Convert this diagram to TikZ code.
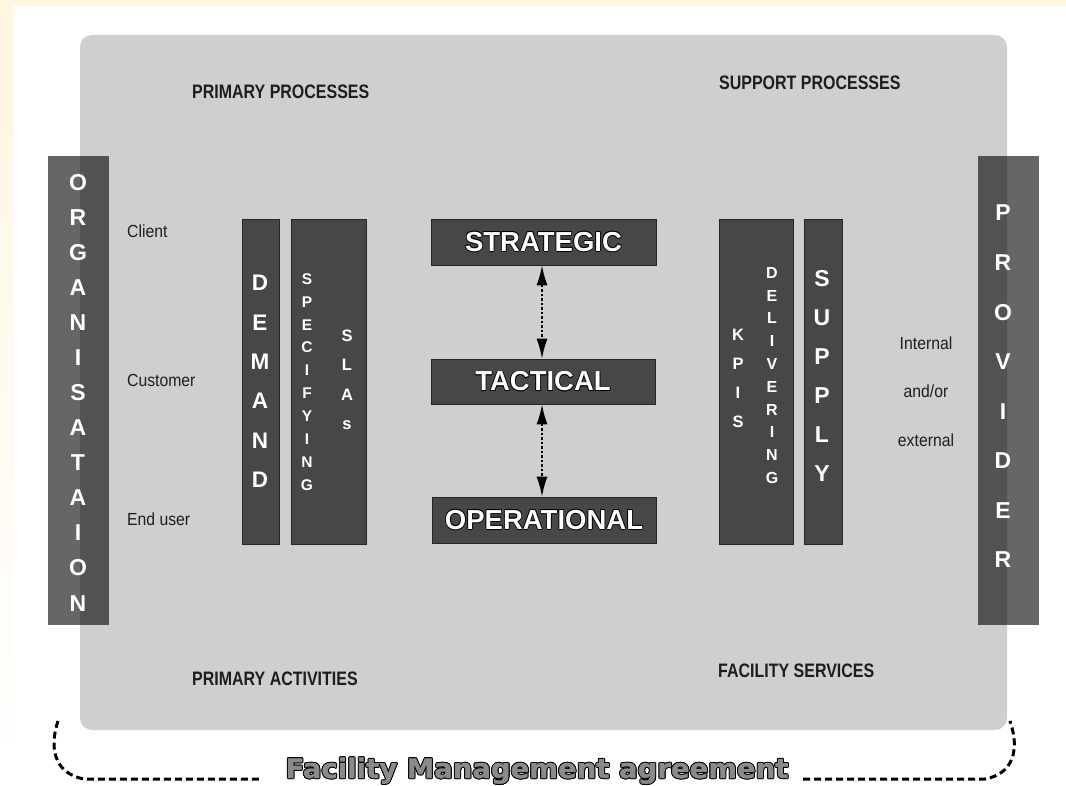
\documentclass[tikz,border=0pt]{standalone}
\usepackage{fontspec}
\setmainfont{Liberation Sans}
\newfontfamily\condfont{Liberation Sans}[FakeStretch=0.82]
\newfontfamily\labelfont{Liberation Sans}[FakeStretch=0.9]
\newfontfamily\widefont{DejaVu Sans}[FakeStretch=1.02, FakeBold=1.2]
\usetikzlibrary{arrows.meta}
\definecolor{panelgray}{HTML}{CFCFCF}
\definecolor{boxgray}{HTML}{474747}
\definecolor{fmgray}{HTML}{8A8A8A}
\definecolor{bandyellow}{HTML}{FFF6DF}
\definecolor{txtdark}{HTML}{1E1E1E}
% #1 offset (number, pt), #2 outline colour, #3 fill colour, #4 text
\newcommand\outlinetext[4]{\leavevmode
  \rlap{\color{#2}\kern-#1pt\relax #4}%
  \rlap{\color{#2}\kern#1pt\relax #4}%
  \rlap{\color{#2}\raisebox{#1pt}{#4}}%
  \rlap{\color{#2}\raisebox{-#1pt}{#4}}%
  \rlap{\color{#2}\kern-\dimexpr#1pt*7/10\relax\raisebox{\dimexpr#1pt*7/10\relax}{#4}}%
  \rlap{\color{#2}\kern\dimexpr#1pt*7/10\relax\raisebox{\dimexpr#1pt*7/10\relax}{#4}}%
  \rlap{\color{#2}\kern-\dimexpr#1pt*7/10\relax\raisebox{-\dimexpr#1pt*7/10\relax}{#4}}%
  \rlap{\color{#2}\kern\dimexpr#1pt*7/10\relax\raisebox{-\dimexpr#1pt*7/10\relax}{#4}}%
  {\color{#3}#4}}
\begin{document}
\begin{tikzpicture}[x=1pt,y=-1pt,
  panel/.style={fill=panelgray, draw=none, rounded corners=12pt},
  sidebar/.style={fill=black, fill opacity=0.6, draw=none, inner sep=0pt,
    minimum width=61pt, minimum height=469pt},
  darkbox/.style={fill=boxgray, draw=black!85, line width=0.8pt, inner sep=0pt},
  vletters/.style={text=white, align=center, inner sep=0pt},
  header/.style={font=\condfont\bfseries\fontsize{19.5}{21}\selectfont, text=txtdark,
    anchor=base west, inner sep=0pt},
  sidelabel/.style={font=\labelfont\fontsize{17.5}{19}\selectfont, text=txtdark, inner sep=0pt},
  levelbox/.style={darkbox, minimum width=225pt, minimum height=46pt,
    font=\bfseries\fontsize{27.5}{30}\selectfont},
  bracket/.style={line width=3pt, dash pattern=on 7pt off 4pt},
  dotarrow/.style={line width=1.6pt, dash pattern=on 2.5pt off 2pt,
    {Latex[length=20pt,width=11pt]}-{Latex[length=20pt,width=11pt]}}
]
\useasboundingbox (0,0) rectangle (1066,786);
\fill[white] (0,0) rectangle (1066,786);
% faint yellow edge bands
\fill[bandyellow] (0,0) rectangle (1066,6);
\shade[top color=bandyellow, bottom color=white] (0,0) rectangle (13,786);

% grey panel
\fill[panel] (80,35) rectangle (1007,730);

% side bars
\node[sidebar] (orgbar) at (78.5,390.5) {};
\node[sidebar] (provbar) at (1008.5,390.5) {};
\node[vletters, font=\bfseries\fontsize{23}{35.08}\selectfont] (org) at (78,392.5)
  {O\\R\\G\\A\\N\\I\\S\\A\\T\\A\\I\\O\\N};
\node[vletters, font=\bfseries\fontsize{23}{49.57}\selectfont] (prov) at (1003,386.5)
  {P\\R\\O\\V\\I\\D\\E\\R};

% headers
\node[header] (pp) at (192,99) {PRIMARY PROCESSES};
\node[header] (sp) at (719,90) {SUPPORT PROCESSES};
\node[header] (pa) at (192,685) {PRIMARY ACTIVITIES};
\node[header] (fs) at (718,677) {FACILITY SERVICES};

% left labels
\node[sidelabel, anchor=base west] (client) at (127,237.5) {Client};
\node[sidelabel, anchor=base west] (customer) at (127,386.5) {Customer};
\node[sidelabel, anchor=base west] (enduser) at (127,525.5) {End user};
% right labels
\node[sidelabel, anchor=base] (internal) at (926,349.5) {Internal};
\node[sidelabel, anchor=base] (andor) at (926,398) {and/or};
\node[sidelabel, anchor=base] (external) at (926,446) {external};

% demand side
\node[darkbox, minimum width=37pt, minimum height=325pt] (demandbox) at (260.5,381.5) {};
\node[darkbox, minimum width=75pt, minimum height=325pt] (specbox) at (328.5,381.5) {};
\node[vletters, font=\bfseries\fontsize{22.5}{39.4}\selectfont] (demand) at (260,381.5)
  {D\\E\\M\\A\\N\\D};
\node[vletters, font=\bfseries\fontsize{15.5}{22.9}\selectfont] (specifying) at (307,382)
  {S\\P\\E\\C\\I\\F\\Y\\I\\N\\G};
\node[vletters, font=\bfseries\fontsize{16.5}{29.5}\selectfont] (slas) at (347,380)
  {S\\L\\A\\s};

% supply side
\node[darkbox, minimum width=74pt, minimum height=325pt] (delivbox) at (756,381.5) {};
\node[darkbox, minimum width=38pt, minimum height=325pt] (supplybox) at (823,381.5) {};
\node[vletters, font=\bfseries\fontsize{16.5}{29}\selectfont] (kpis) at (738,378.5)
  {K\\P\\I\\S};
\node[vletters, font=\bfseries\fontsize{16}{22.8}\selectfont] (delivering) at (772,375.5)
  {D\\E\\L\\I\\V\\E\\R\\I\\N\\G};
\node[vletters, font=\bfseries\fontsize{23}{39}\selectfont] (supply) at (822,375.5)
  {S\\U\\P\\P\\L\\Y};

% levels
\node[levelbox] (strategic) at (543.5,242) {\outlinetext{0.7}{black}{white}{STRATEGIC}};
\node[levelbox, minimum width=224pt, minimum height=45pt] (tactical) at (543,381.5)
  {\outlinetext{0.7}{black}{white}{TACTICAL}};
\node[levelbox, minimum width=224pt] (operational) at (544,520)
  {\outlinetext{0.7}{black}{white}{OPERATIONAL}};
\draw[dotarrow] ([xshift=-1.5pt]strategic.south) -- ([xshift=-1pt]tactical.north);
\draw[dotarrow] ([xshift=-1pt]tactical.south) -- ([xshift=-2pt]operational.north);

% agreement bracket
\coordinate (bltop) at (58,721);
\coordinate (blend) at (262,779);
\coordinate (brstart) at (803,779);
\coordinate (brtop) at (1010,721);
\draw[bracket] (bltop) .. controls (50,745) and (52,773) .. (84,779) -- (blend);
\draw[bracket] (brstart) -- (985,779) .. controls (1013,774) and (1020,750) .. (brtop);
\node[anchor=base, inner sep=0pt, font=\widefont\bfseries\fontsize{27}{30}\selectfont]
  (agreement) at (537,778) {\outlinetext{1.0}{black}{fmgray}{Facility Management agreement}};
\end{tikzpicture}
\end{document}
